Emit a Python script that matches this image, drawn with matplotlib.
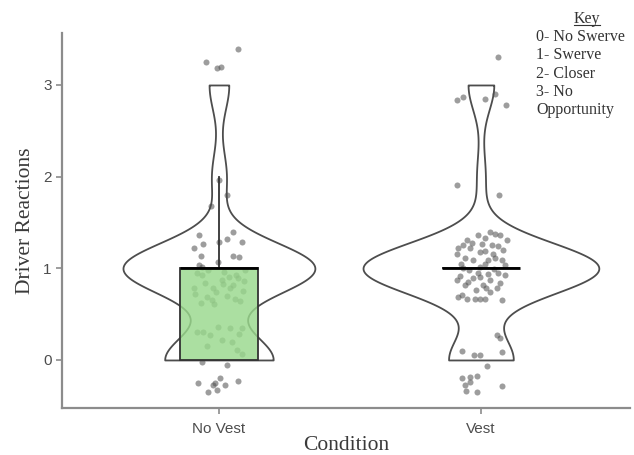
import numpy as np
import matplotlib
matplotlib.use("Agg")
import matplotlib.pyplot as plt
from matplotlib.lines import Line2D

# ---------------- data ----------------
conditions = ["No Vest", "Vest"]
y_ticks = [0, 1, 2, 3]
key_title = "Key"
key_lines = ["0- No Swerve", "1- Swerve", "2- Closer", "3- No", "Opportunity"]

# jittered observations (horizontal offset from category, jittered response)
novest_dx = [0.071, -0.050, -0.009, 0.006,
             0.001, 0.029, -0.032,
             -0.076, 0.055, -0.060, 0.001, 0.032, 0.087, -0.095, -0.070, 0.055, 0.076,
             -0.075, -0.003, -0.066, -0.065, 0.010, -0.095, -0.023, 0.042, 0.073, 0.099,
             -0.047, -0.028, 0.053, 0.080,
             -0.085, -0.040, 0.020, 0.065, -0.090, -0.010, 0.030, 0.090, -0.055, 0.015,
             0.060, -0.020, 0.040, -0.070, 0.095,
             -0.085, -0.034, -0.003, 0.042, 0.087, 0.048, 0.068, 0.087, -0.066, 0.029,
             0.004, -0.079, -0.015, 0.023, 0.074, -0.041, -0.009, -0.022,
             -0.060, 0.010, -0.045, 0.075]
novest_y = [3.39, 3.25, 3.19, 3.20,
            1.96, 1.80, 1.68,
            1.36, 1.40, 1.27, 1.29, 1.32, 1.29, 1.22, 1.13, 1.13, 1.12,
            1.04, 1.07, 1.01, 0.93, 0.87, 0.79, 0.79, 0.79, 0.89, 0.98,
            0.69, 0.65, 0.82, 0.64,
            0.95, 0.98, 0.96, 0.93, 0.72, 0.74, 0.70, 0.75, 0.84, 0.83,
            0.67, 0.61, 0.90, 0.62, 0.86,
            0.31, 0.27, 0.36, 0.35, 0.35, 0.20, 0.11, 0.07, -0.02, -0.06,
            -0.20, -0.25, -0.25, -0.27, -0.23, -0.35, -0.33, -0.27,
            0.30, 0.22, 0.15, 0.28]

vest_dx = [0.064, -0.090, -0.068, 0.015, 0.053, 0.095,
           -0.093, 0.069,
           -0.010, 0.034, 0.053, 0.073, 0.098, 0.015, -0.055, -0.068, -0.042, -0.087,
           0.041, 0.066, -0.004, 0.015, -0.093, 0.047, -0.061, -0.029, 0.028, 0.053,
           0.079, 0.015, -0.068, -0.004, 0.092, -0.010, 0.028, 0.066, -0.093, -0.048,
           -0.029, -0.004, 0.034, 0.073, -0.061, 0.009, 0.034, -0.087, -0.055, -0.023,
           -0.004, 0.015, 0.079, -0.074,
           -0.035, 0.005, 0.085, -0.075, 0.050, -0.045, 0.020, -0.020, 0.060, -0.080, 0.090,
           0.060, 0.073, -0.074, 0.079, -0.027, -0.004, 0.022, -0.074, -0.042, -0.016,
           -0.061, 0.079, -0.057, -0.016, -0.042]
vest_y = [3.31, 2.84, 2.87, 2.85, 2.90, 2.78,
          1.91, 1.80,
          1.36, 1.40, 1.37, 1.36, 1.31, 1.33, 1.31, 1.25, 1.22, 1.22,
          1.25, 1.24, 1.18, 1.19, 1.16, 1.16, 1.11, 1.09, 1.09, 1.11,
          1.09, 1.05, 1.00, 1.01, 1.04, 0.95, 0.94, 0.95, 0.87, 0.85,
          0.89, 0.91, 0.87, 0.84, 0.82, 0.82, 0.74, 0.69, 0.66, 0.66,
          0.66, 0.67, 0.65, 0.71,
          1.28, 1.27, 1.20, 1.05, 0.99, 0.98, 0.78, 0.76, 0.78, 0.92, 0.93,
          0.27, 0.24, 0.10, 0.09, 0.05, 0.05, -0.07, -0.20, -0.19, -0.18,
          -0.27, -0.28, -0.34, -0.35, -0.24]

groups_dx = [novest_dx, vest_dx]
groups_y = [novest_y, vest_y]
# recorded (integer) responses recovered from the jittered points
responses = [np.round(np.array(g)).astype(int) for g in groups_y]

# ---------------- style ----------------
BW = 0.28
VIOLIN_HALF = 0.45
BOX_W = 0.30
GRID_N = 400

plt.rcParams['font.family'] = ['Liberation Sans', 'DejaVu Sans']
fig = plt.figure(figsize=(6.34, 4.55), dpi=100)
ax = fig.add_axes([62/634, 1-408/455, (630-62)/634, (408-33)/455])

# violins (gaussian kde, trimmed to data range, area-scaled)
dens = []
grids = []
for r in responses:
    g = np.linspace(r.min(), r.max(), GRID_N)
    d = np.exp(-0.5*((g[:, None]-r[None, :])/BW)**2).sum(axis=1) / (len(r)*BW*np.sqrt(2*np.pi))
    grids.append(g)
    dens.append(d)
dmax = max(d.max() for d in dens)
for i, (g, d) in enumerate(zip(grids, dens)):
    w = VIOLIN_HALF * d / dmax
    ax.fill_betweenx(g, i - w, i + w, facecolor='white', edgecolor='#4d4d4d',
                     linewidth=1.3, zorder=1)

# jittered points
for i, (dx, yy) in enumerate(zip(groups_dx, groups_y)):
    ax.scatter(i + np.array(dx), yy, s=19, color='#4d4d4d', alpha=0.55,
               linewidths=0, zorder=2)

# boxplots
bp = ax.boxplot(responses, positions=[0, 1], widths=BOX_W, whis=1.5,
                showfliers=False, showcaps=False, patch_artist=True, zorder=3)
for b in bp['boxes']:
    b.set(facecolor=(0.60, 0.85, 0.55, 0.82), edgecolor='#333333', linewidth=1.3)
for wk in bp['whiskers']:
    wk.set(color='#333333', linewidth=1.3)
for m in bp['medians']:
    m.set(color='black', linewidth=2.0, solid_capstyle='butt')

ax.set_xlim(-0.599, 1.569)
ax.set_ylim(-0.524, 3.567)
ax.set_xticks([0, 1])
ax.set_xticklabels(conditions)
ax.set_yticks(y_ticks)
ax.set_yticklabels([str(t) for t in y_ticks])
ax.tick_params(axis='both', colors='#8c8c8c', length=4, width=1.2,
               labelsize=11, labelcolor='#4d4d4d')
ax.tick_params(axis='x', pad=6)
for s in ['top', 'right']:
    ax.spines[s].set_visible(False)
for s in ['left', 'bottom']:
    ax.spines[s].set_color('#8c8c8c')
    ax.spines[s].set_linewidth(1.6)

ax.set_xlabel('Condition', family=['Liberation Serif', 'DejaVu Serif'],
              fontsize=15.5, color='#3a3a3a', labelpad=0)
ax.set_ylabel('Driver Reactions', family=['Liberation Serif', 'DejaVu Serif'],
              fontsize=15.5, color='#3a3a3a', labelpad=6)

# key
W, H = 634, 455
kt = fig.text(587/W, 1-19/H, key_title, ha='center', va='center',
              family=['Liberation Serif', 'DejaVu Serif'], fontsize=11.5, color='#333333')
for j, line in enumerate(key_lines):
    fig.text(536/W, 1-(37 + j*18.3)/H, line, ha='left', va='center',
             family=['Liberation Serif', 'DejaVu Serif'], fontsize=11.5, color='#333333')
fig.canvas.draw()
bb = kt.get_window_extent().transformed(fig.transFigure.inverted())
fig.add_artist(Line2D([bb.x0, bb.x1], [bb.y0 + 0.004, bb.y0 + 0.004],
                      transform=fig.transFigure, color='#333333', linewidth=0.8))

fig.savefig('out.png', dpi=100)
